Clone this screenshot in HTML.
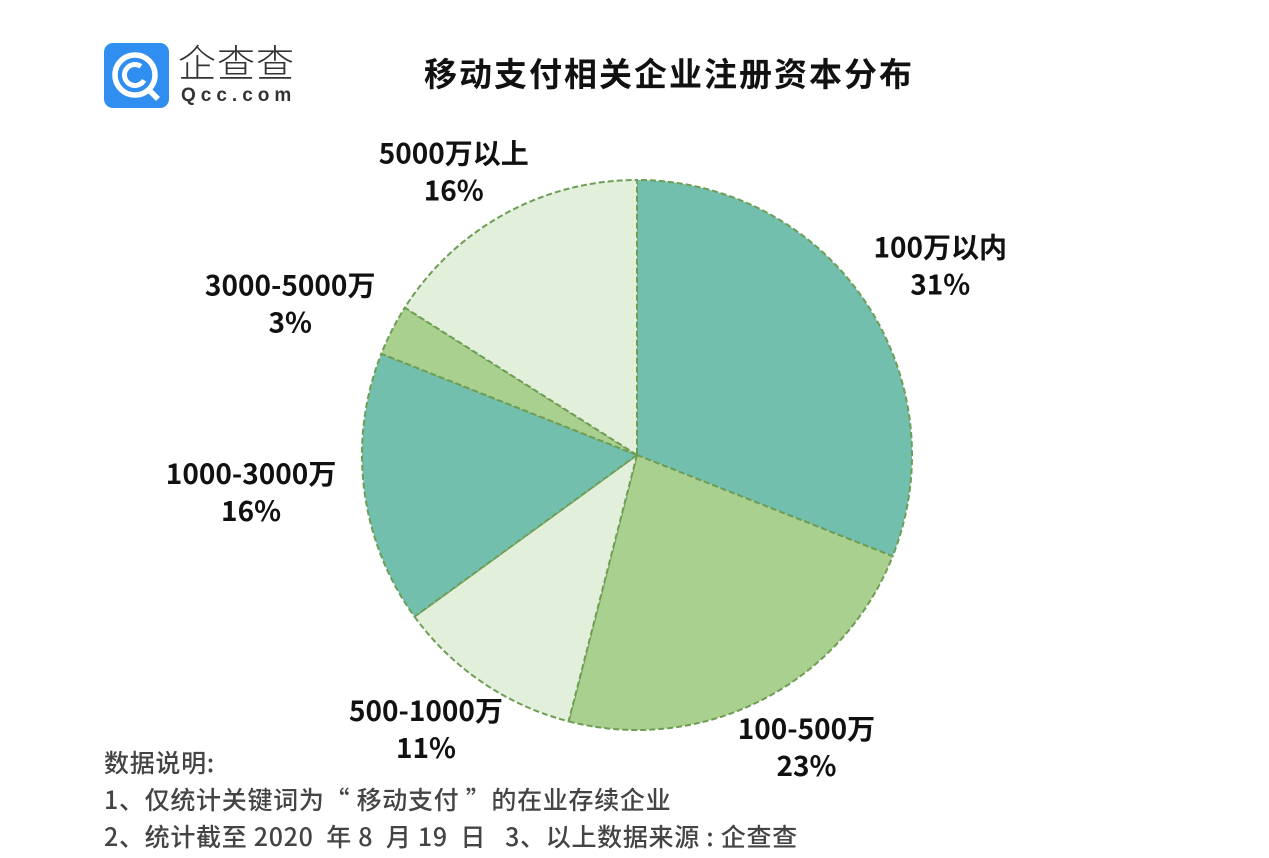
<!DOCTYPE html>
<html><head><meta charset="utf-8">
<style>
body{margin:0;background:#fff;width:1269px;height:858px;overflow:hidden;font-family:"Noto Sans CJK SC",sans-serif;}
#root{position:relative;width:1269px;height:858px;}
.abs{position:absolute;}
.note{position:absolute;left:104px;font-size:25px;line-height:30px;color:#444;font-weight:500;letter-spacing:0.7px;white-space:pre;}
</style></head><body>
<div id="root">
  <div class="abs" style="left:104px;top:43px;width:65px;height:65px;background:#2f8ef0;border-radius:9px;">
    <svg width="65" height="65">
      <circle cx="31" cy="32" r="20" fill="none" stroke="#fff" stroke-width="5.5"/>
      <circle cx="31" cy="32" r="10.5" fill="none" stroke="#fff" stroke-width="5" stroke-dasharray="50 20" transform="rotate(30 31 32)"/>
      <line x1="44" y1="46" x2="54" y2="56" stroke="#fff" stroke-width="5.5"/>
    </svg>
  </div>
  <div class="abs" style="left:178px;top:36px;font-size:38px;line-height:50px;color:#333;font-weight:300;letter-spacing:1px;">企查查</div>
  <div class="abs" style="left:181px;top:85px;font-size:19px;font-weight:bold;color:#333;letter-spacing:5px;font-family:'Liberation Sans',sans-serif;">Qcc.com</div>
  <div class="abs" style="left:0;width:1338px;top:52px;line-height:40px;text-align:center;font-size:33px;font-weight:bold;color:#111;letter-spacing:2px;">移动支付相关企业注册资本分布</div>
  <svg id="pie" class="abs" style="left:0;top:0" width="1269" height="858"></svg>
  <div class="note" style="top:747px;">数据说明:</div>
  <div class="note" style="top:784px;">1、仅统计关键词为“ 移动支付 ”的在业存续企业</div>
  <div class="note" style="top:821px;">2、统计截至 2020  年 8  月 19  日   3、以上数据来源 : 企查查</div>
</div>
<script>
const categories = ["100万以内","100-500万","500-1000万","1000-3000万","3000-5000万","5000万以上"];
const values = [31,23,11,16,3,16];
const pctLabels = ["31%","23%","11%","16%","3%","16%"];
const colors = ["#72bfae","#a9d08e","#e2efda","#72bfae","#a9d08e","#e2efda"];
const labelRadius = [357,338,347,389,378,343];
const labelNudgeX = [8,16,-16,0,-10,-18];
const labelNudgeY = [12,-8,-12,-11,21,18];
const cx=637, cy=455, R=275;
const svg=document.getElementById('pie');
const NS='http://www.w3.org/2000/svg';
const total=values.reduce((a,b)=>a+b,0);
function pt(a,r){return [cx+r*Math.sin(a), cy-r*Math.cos(a)];}
let start=0;
values.forEach((v,i)=>{
  const ang=v/total*2*Math.PI, end=start+ang;
  const p0=pt(start,R), p1=pt(end,R);
  const path=document.createElementNS(NS,'path');
  path.setAttribute('d',`M${cx},${cy} L${p0[0]},${p0[1]} A${R},${R} 0 ${ang>Math.PI?1:0} 1 ${p1[0]},${p1[1]} Z`);
  path.setAttribute('fill',colors[i]);
  path.setAttribute('stroke','#6e9d55');
  path.setAttribute('stroke-width','2');
  path.setAttribute('stroke-dasharray','6 3');
  
  
  svg.appendChild(path);
  start=end;
});
start=0;
values.forEach((v,i)=>{
  const ang=v/total*2*Math.PI, mid=start+ang/2;
  const lp=pt(mid,labelRadius[i]);
  const x=lp[0]+labelNudgeX[i], y=lp[1]+labelNudgeY[i];
  [categories[i],pctLabels[i]].forEach((t,k)=>{
    const tx=document.createElementNS(NS,'text');
    tx.setAttribute('x',x); tx.setAttribute('y',y+(k===0?-9:28));
    tx.setAttribute('text-anchor','middle');
    tx.setAttribute('font-size','28'); tx.setAttribute('font-weight','bold');
    tx.setAttribute('fill','#111');
    tx.setAttribute('font-family','"Noto Sans CJK SC",sans-serif');
    tx.textContent=t;
    
    
    svg.appendChild(tx);
  });
  start+=ang;
});
</script>
</body></html>
